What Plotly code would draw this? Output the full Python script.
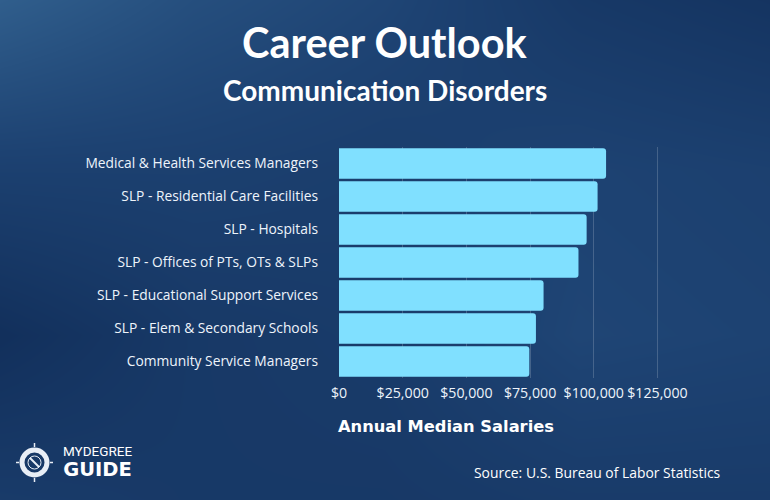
import plotly.graph_objects as go

# ---- data ----
categories = [
    "Medical & Health Services Managers",
    "SLP - Residential Care Facilities",
    "SLP - Hospitals",
    "SLP - Offices of PTs, OTs & SLPs",
    "SLP - Educational Support Services",
    "SLP - Elem & Secondary Schools",
    "Community Service Managers",
]
salaries = [104830, 101500, 97200, 94000, 80300, 77300, 74700]
tick_values = [0, 25000, 50000, 75000, 100000, 125000]
tick_labels = ["$0", "$25,000", "$50,000", "$75,000", "$100,000", "$125,000"]

# background gradient (decorative)
bg_x = [0, 0.25, 0.5, 0.75, 1]
bg_y = [0, 0.33, 0.66, 1]
bg_z = [
    [0.35, 0.3, 0.3, 0.35, 0.35],
    [0.1, 0.3, 0.35, 0.55, 0.5],
    [0.45, 0.45, 0.4, 0.5, 0.45],
    [0.95, 0.7, 0.55, 0.3, 0.2],
]

W, H = 770, 500
PL, PR, PT, PB = 339, 660, 147, 378  # plot area in pixels

fig = go.Figure()

fig.add_trace(go.Heatmap(
    x=bg_x, y=bg_y, z=bg_z, zsmooth="best", showscale=False,
    colorscale=[[0, "#0f2b56"], [0.5, "#1d4272"], [1, "#32618f"]],
    zmin=0, zmax=1, hoverinfo="skip", xaxis="x", yaxis="y",
))

fig.add_trace(go.Bar(
    y=categories, x=salaries, orientation="h",
    marker=dict(color="#80e0ff", cornerradius=3, line=dict(width=0)),
    xaxis="x2", yaxis="y2", hoverinfo="x+y",
))

fig.update_layout(
    width=W, height=H,
    margin=dict(l=0, r=0, t=0, b=0, autoexpand=False),
    paper_bgcolor="#1b3c6b", plot_bgcolor="rgba(0,0,0,0)",
    showlegend=False, bargap=0.07,
    font=dict(family="Open Sans", color="#eef4fb"),
    xaxis=dict(domain=[0, 1], range=[0, 1], visible=False, fixedrange=True),
    yaxis=dict(domain=[0, 1], range=[0, 1], visible=False, fixedrange=True),
    xaxis2=dict(
        domain=[PL / W, PR / W], anchor="y2", range=[0, 126000],
        tickvals=tick_values, ticktext=tick_labels,
        showgrid=True, gridcolor="rgba(255,255,255,0.18)", gridwidth=1,
        zeroline=False, showline=False, ticks="",
        ticklabelstandoff=5,
        tickfont=dict(size=14.2, color="#eef4fb", family="Open Sans"),
    ),
    yaxis2=dict(
        domain=[1 - PB / H, 1 - PT / H], anchor="x2", autorange="reversed",
        showgrid=False, zeroline=False, showline=False, ticks="",
        ticklabelstandoff=20,
        tickfont=dict(size=13.8, color="#eef4fb", family="Open Sans"),
    ),
)

ann = [
    dict(text="<b>Career Outlook</b>", x=385, y=42, size=41.5, family="Lato"),
    dict(text="<b>Communication Disorders</b>", x=385, y=90, size=28, family="Lato"),
    dict(text="<b>Annual Median Salaries</b>", x=446, y=426, size=16.3, family="DejaVu Sans"),
    dict(text="Source: U.S. Bureau of Labor Statistics", x=597, y=472, size=13.9, family="Open Sans"),
    dict(text="<span style='font-size:13.5px;font-family:Roboto'>MYDEGREE</span><br>"
              "<span style='font-size:19.5px;font-weight:bold;font-family:DejaVu Sans'>GUIDE</span>",
         x=98, y=462, size=15.3, family="Roboto"),
]
for a in ann:
    fig.add_annotation(
        text=a["text"], x=a["x"] / W, y=1 - a["y"] / H,
        xref="paper", yref="paper", xanchor="center", yanchor="middle",
        align="center",
        showarrow=False, font=dict(size=a["size"], family=a["family"], color="#ffffff"),
    )

# logo compass ring (decorative)
LOGO = "#e8eef6"
fig.add_shape(type="circle", xref="paper", yref="paper",
              x0=22/W, x1=47/W, y0=1-475/H, y1=1-450/H,
              line=dict(color=LOGO, width=5), fillcolor="rgba(0,0,0,0)")
fig.add_shape(type="circle", xref="paper", yref="paper",
              x0=28/W, x1=41/W, y0=1-469/H, y1=1-456/H,
              line=dict(color=LOGO, width=1), fillcolor="rgba(0,0,0,0)")
fig.add_shape(type="line", xref="paper", yref="paper",
              x0=30/W, x1=39/W, y0=1-458/H, y1=1-467/H,
              line=dict(color=LOGO, width=2))
for (ax0, ay0, ax1, ay1) in [(34.5, 443, 34.5, 447), (34.5, 478, 34.5, 482),
                             (16, 462.5, 19, 462.5), (50, 462.5, 53, 462.5)]:
    fig.add_shape(type="line", xref="paper", yref="paper",
                  x0=ax0/W, x1=ax1/W, y0=1-ay0/H, y1=1-ay1/H,
                  line=dict(color=LOGO, width=1.5))

fig.write_html(
    "out.html",
    config={"displayModeBar": False},
    post_script="document.body.style.margin='0';document.body.style.overflow='hidden';",
)
